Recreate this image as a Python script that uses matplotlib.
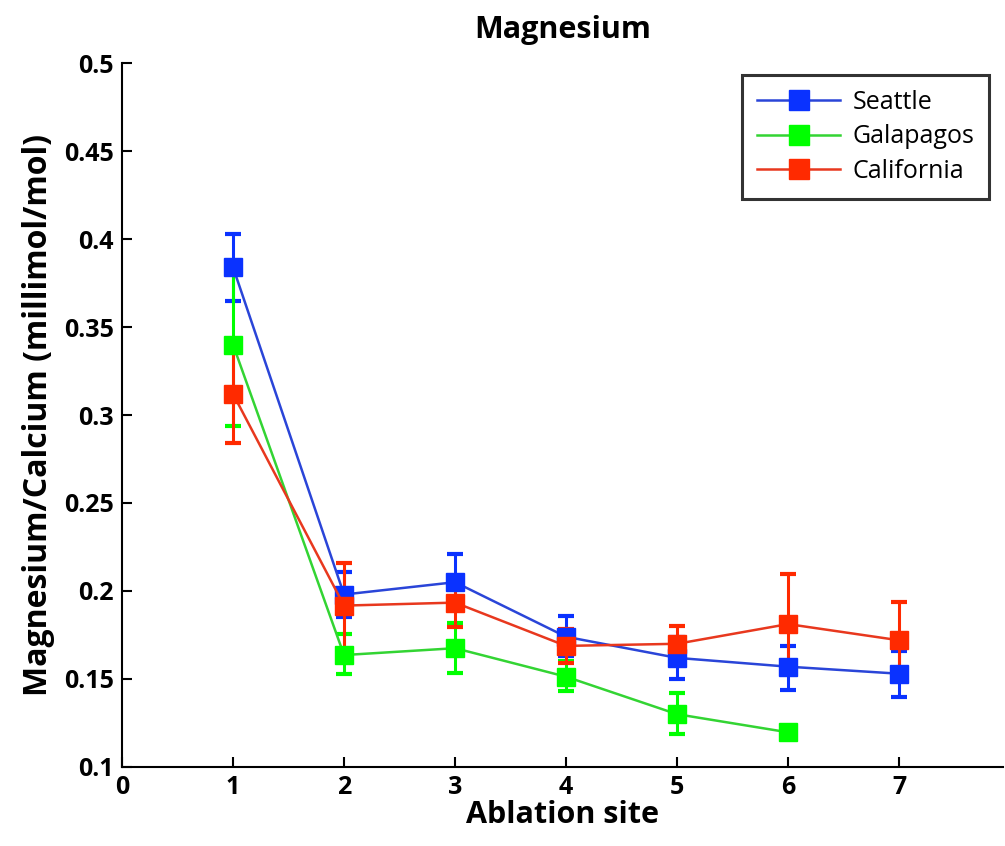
import numpy as np
import matplotlib.pyplot as plt

plt.rcParams['font.family'] = ['Open Sans', 'DejaVu Sans']

# ablation sites
sites_seattle = [1, 2, 3, 4, 5, 6, 7]
sites_galapagos = [1, 2, 3, 4, 5, 6]
sites_california = [1, 2, 3, 4, 5, 6, 7]

# Mg/Ca means and error bar ends
seattle = [0.384, 0.198, 0.205, 0.174, 0.162, 0.157, 0.153]
seattle_hi = [0.403, 0.211, 0.221, 0.186, 0.174, 0.169, 0.166]
seattle_lo = [0.365, 0.185, 0.189, 0.163, 0.150, 0.144, 0.140]

galapagos = [0.340, 0.1636, 0.1675, 0.1513, 0.130, 0.1197]
galapagos_hi = [0.385, 0.1758, 0.1816, 0.160, 0.142, 0.1197]
galapagos_lo = [0.294, 0.1527, 0.1536, 0.1432, 0.1187, 0.1197]

california = [0.312, 0.1917, 0.1934, 0.1688, 0.170, 0.1812, 0.172]
california_hi = [0.338, 0.2157, 0.2076, 0.1782, 0.1803, 0.2097, 0.1937]
california_lo = [0.284, 0.1655, 0.1794, 0.1593, 0.1584, 0.1538, 0.151]

fig = plt.figure(figsize=(10.05, 8.46), dpi=100)
ax = fig.add_axes([0.1214, 0.0934, 0.877, 0.8321])

series = [
    ('Seattle', sites_seattle, seattle, seattle_lo, seattle_hi, '#2a45d8', '#0a32ff'),
    ('Galapagos', sites_galapagos, galapagos, galapagos_lo, galapagos_hi, '#33d433', '#00ff00'),
    ('California', sites_california, california, california_lo, california_hi, '#e8381e', '#ff2a00'),
]

for name, x, y, lo, hi, lc, mc in series:
    y = np.array(y)
    err = [y - np.array(lo), np.array(hi) - y]
    ax.errorbar(x, y, yerr=err, color=lc, ecolor=mc, elinewidth=2.2, capsize=6, capthick=3,
                linewidth=1.8, marker='s', markersize=13, markerfacecolor=mc,
                markeredgecolor=mc, label=name)

ax.set_xlim(0, 7.94)
ax.set_ylim(0.1, 0.5)
ax.set_xticks(range(0, 8))
ax.set_yticks([0.1, 0.15, 0.2, 0.25, 0.3, 0.35, 0.4, 0.45, 0.5])
ax.set_yticklabels(['0.1', '0.15', '0.2', '0.25', '0.3', '0.35', '0.4', '0.45', '0.5'])
ax.tick_params(direction='in', length=7, width=1.5, labelsize=18, pad=6)
for lab in ax.get_xticklabels() + ax.get_yticklabels():
    lab.set_fontweight('bold')

for s in ['top', 'right']:
    ax.spines[s].set_visible(False)
for s in ['left', 'bottom']:
    ax.spines[s].set_linewidth(1.5)

ax.set_title('Magnesium', fontsize=22, fontweight='bold', pad=18)
ax.set_xlabel('Ablation site', fontsize=22, fontweight='bold', labelpad=0)
ax.set_ylabel('Magnesium/Calcium (millimol/mol)', fontsize=23, fontweight='bold', labelpad=6)

# legend shows markers with plain lines, no error bars
handles = [plt.Line2D([], [], color=lc, linewidth=1.8, marker='s', markersize=15,
                      markerfacecolor=mc, markeredgecolor=mc) for _, _, _, _, _, lc, mc in series]
leg = ax.legend(handles, [s[0] for s in series], loc='upper right', fontsize=18,
                frameon=True, fancybox=False, edgecolor='black', handlelength=3.3,
                handletextpad=0.5, borderpad=0.6, labelspacing=0.38,
                borderaxespad=0, bbox_to_anchor=(0.984, 0.983))
leg.get_frame().set_linewidth(2.2)

plt.savefig('out.png')
